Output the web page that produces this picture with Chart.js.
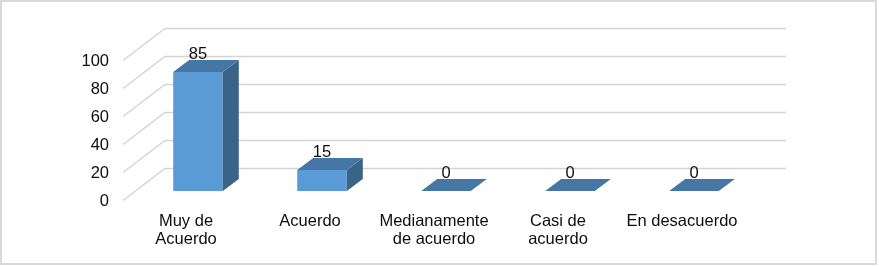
<!DOCTYPE html>
<html lang="es">
  <head>
    <meta charset="utf-8" />
    <title>Muy de Acuerdo</title>
    <style>
      * {
        margin: 0;
        padding: 0;
      }
      body {
        background: #fff;
      }
    </style>
  </head>
  <body>
    <canvas id="myChart" width="879" height="266"></canvas>

    <script src="https://cdn.jsdelivr.net/npm/chart.js"></script>

    <script>
      // data
      const categories = [
        ["Muy de", "Acuerdo"],
        ["Acuerdo"],
        ["Medianamente", "de acuerdo"],
        ["Casi de", "acuerdo"],
        ["En desacuerdo"],
      ];
      const values = [85, 15, 0, 0, 0];
      const yTicks = [0, 20, 40, 60, 80, 100];

      const FONT = "16.5px 'Liberation Sans', Arial, sans-serif";
      const TEXT = "#0d0d0d";

      // fake 3D: walls, bar sides and tops, labels
      const threeD = {
        id: "threeD",
        beforeDatasetsDraw(chart) {
          const { ctx, chartArea, scales } = chart;
          const y = scales.y;
          const backL = chartArea.left + 29;
          const backR = chartArea.right + 30;
          const frontL = chartArea.left - 13;
          ctx.save();
          ctx.strokeStyle = "#d4d4d4";
          ctx.lineWidth = 1.4;
          yTicks.forEach((v) => {
            const py = Math.round(y.getPixelForValue(v)) + 0.5;
            ctx.beginPath();
            ctx.moveTo(frontL, py + 9);
            ctx.lineTo(backL, py - 23);
            ctx.lineTo(backR, py - 23);
            ctx.stroke();
          });
          // tick labels
          ctx.fillStyle = TEXT;
          ctx.font = FONT;
          ctx.textAlign = "right";
          ctx.textBaseline = "middle";
          yTicks.forEach((v) => {
            ctx.fillText(String(v), 109, y.getPixelForValue(v) + 10);
          });
          ctx.restore();
        },
        afterDatasetsDraw(chart) {
          const { ctx } = chart;
          const meta = chart.getDatasetMeta(0);
          const dx = 16, dy = 12;
          ctx.save();
          meta.data.forEach((bar, i) => {
            const x0 = bar.x - bar.width / 2;
            const x1 = bar.x + bar.width / 2;
            const yt = bar.y;
            const yb = bar.base;
            // side
            if (yb - yt > 0.5) {
              ctx.fillStyle = "#3a6388";
              ctx.beginPath();
              ctx.moveTo(x1, yt);
              ctx.lineTo(x1 + dx, yt - dy);
              ctx.lineTo(x1 + dx, yb - dy);
              ctx.lineTo(x1, yb);
              ctx.closePath();
              ctx.fill();
            }
            // top
            ctx.fillStyle = "#4676a6";
            ctx.beginPath();
            ctx.moveTo(x0, yt);
            ctx.lineTo(x0 + dx, yt - dy);
            ctx.lineTo(x1 + dx, yt - dy);
            ctx.lineTo(x1, yt);
            ctx.closePath();
            ctx.fill();

            // value label
            ctx.fillStyle = TEXT;
            ctx.font = FONT;
            ctx.textAlign = "center";
            ctx.textBaseline = "middle";
            ctx.fillText(String(values[i]), bar.x, yt - 18);

            // category label
            categories[i].forEach((line, k) => {
              ctx.fillText(line, bar.x - 12, 221 + k * 18);
            });
          });

          // outer border
          ctx.strokeStyle = "#d9d9d9";
          ctx.lineWidth = 2;
          ctx.strokeRect(1, 1, 875, 263);
          ctx.restore();
        },
      };

      const data = {
        labels: categories,
        datasets: [
          {
            label: "Serie 1",
            data: values,
            backgroundColor: "#5b9bd5",
            borderWidth: 0,
            barPercentage: 0.4,
            categoryPercentage: 1,
          },
        ],
      };

      const config = {
        type: "bar",
        data: data,
        options: {
          responsive: false,
          animation: false,
          layout: {
            padding: { left: 136, right: 123, top: 51, bottom: 75 },
          },
          plugins: {
            legend: { display: false },
            tooltip: { enabled: false },
          },
          scales: {
            x: { display: false },
            y: { display: false, min: 0, max: 100 },
          },
        },
        plugins: [threeD],
      };

      const myChart = new Chart(document.getElementById("myChart"), config);
    </script>
  </body>
</html>
